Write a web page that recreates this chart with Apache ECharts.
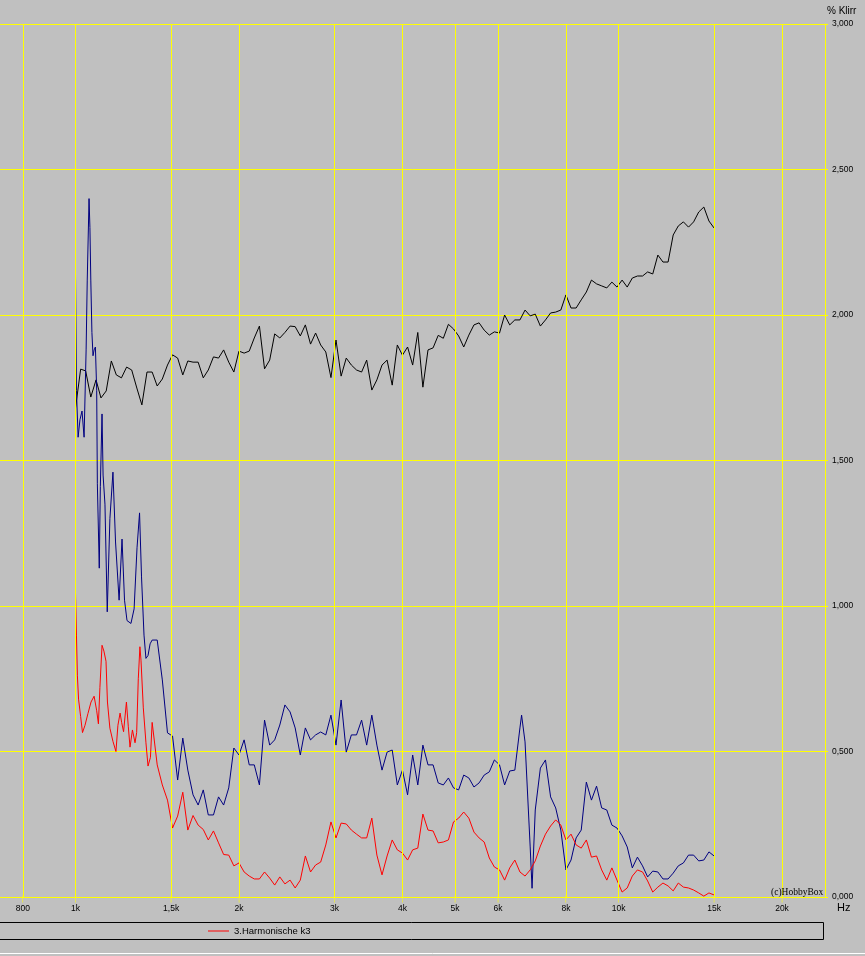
<!DOCTYPE html>
<html>
<head>
<meta charset="utf-8">
<script src="https://cdn.jsdelivr.net/npm/echarts@6/dist/echarts.min.js"></script>
<style>
html,body{margin:0;padding:0;background:#c0c0c0;}
#chart{width:865px;height:956px;}
</style>
</head>
<body>
<div id="chart"></div>
<script>
// common 1/32-octave frequency grid (Hz)
const freqs = [1000,1022,1044,1067,1091,1114,1139,1164,1189,1215,1242,1269,1297,1325,1354,1384,1414,1445,1477,1509,1542,1576,1610,1646,1682,1719,1756,1795,1834,1874,1915,1957,
2000,2044,2089,2134,2181,2229,2278,2327,2378,2430,2484,2538,2594,2650,2709,2768,2828,2890,2954,3018,3084,3152,3221,3292,3364,3437,3513,3589,3668,3748,3830,3914,
4000,4088,4177,4269,4362,4458,4555,4655,4757,4861,4967,5076,5187,5301,5417,5536,5657,5781,5907,6037,6169,6304,6442,6583,6727,6875,7025,7179,7336,7497,7661,7829,
8000,8175,8354,8537,8724,8915,9110,9310,9514,9722,9935,10152,10375,10602,10834,11071,11314,11561,11815,12073,12338,12608,12884,13166,13454,13749,14050,14358,14672,14993];

// black curve (% Klirr)
const blackVals = [1.68,1.814,1.808,1.718,1.777,1.715,1.739,1.842,1.794,1.784,1.821,1.811,1.749,1.691,1.804,1.804,1.756,1.780,1.828,1.863,1.852,1.794,1.842,1.838,1.838,1.784,1.811,1.856,1.852,1.880,1.838,1.804,
1.876,1.869,1.876,1.921,1.962,1.815,1.845,1.935,1.921,1.940,1.962,1.960,1.928,1.966,1.900,1.938,1.897,1.873,1.785,1.914,1.790,1.852,1.828,1.811,1.804,1.845,1.742,1.777,1.828,1.845,1.759,1.897,
1.862,1.890,1.828,1.940,1.752,1.880,1.887,1.930,1.920,1.968,1.952,1.928,1.890,1.931,1.966,1.973,1.948,1.931,1.942,1.938,2.000,1.966,1.983,1.983,2.017,1.997,2.003,1.962,1.983,2.007,2.010,2.017,
2.069,2.024,2.024,2.052,2.079,2.120,2.107,2.100,2.093,2.113,2.096,2.120,2.096,2.127,2.134,2.134,2.148,2.141,2.206,2.182,2.182,2.275,2.306,2.320,2.302,2.320,2.354,2.371,2.323,2.299];

// blue curve
const blueFreqs = [1000,1004,1011,1019,1028,1037,1046,1051,1059,1063,1067,1072,1077,1082,1088,1094,1097,1106,1111,1119,1124,1133,1144,1157,1172,1185,1203,1218,1231,1244,1265,1282,1298,1312,1323,1337,1348,1360,1372,
1384,1414,1445,1477,1509,1542,1576,1610,1646,1682,1719,1756,1795,1834,1874,1915,1957,
2000,2044,2089,2134,2181,2229,2278,2327,2378,2430,2484,2538,2594,2650,2709,2768,2828,2890,2954,3018,3084,3152,3221,3292,3364,3437,3513,3589,3668,3748,3830,3914,
4000,4088,4177,4269,4362,4458,4555,4655,4757,4861,4967,5076,5187,5301,5417,5536,5657,5781,5907,6037,6169,6304,6442,6583,6629,6727,6875,6930,7025,7179,7336,7497,7661,7829,
8000,8175,8354,8537,8724,8915,9110,9310,9514,9722,9935,10152,10375,10602,10834,11071,11314,11561,11815,12073,12338,12608,12884,13166,13454,13749,14050,14358,14672,14993];
const blueVals = [2.14,1.74,1.58,1.64,1.67,1.58,1.88,2.12,2.40,2.30,2.12,1.94,1.86,1.88,1.89,1.74,1.42,1.13,1.41,1.66,1.45,1.35,0.98,1.30,1.46,1.22,1.02,1.23,1.02,0.95,0.94,0.99,1.20,1.32,1.10,0.90,0.82,0.83,0.87,
0.883,0.883,0.746,0.564,0.553,0.402,0.546,0.436,0.351,0.316,0.368,0.282,0.282,0.344,0.316,0.375,0.512,
0.488,0.540,0.454,0.454,0.385,0.608,0.522,0.540,0.591,0.660,0.636,0.581,0.488,0.581,0.540,0.557,0.567,0.557,0.625,0.522,0.677,0.498,0.557,0.557,0.608,0.522,0.625,0.522,0.436,0.498,0.505,0.385,
0.436,0.351,0.488,0.385,0.522,0.454,0.454,0.392,0.385,0.409,0.375,0.368,0.419,0.409,0.378,0.392,0.419,0.430,0.471,0.454,0.385,0.433,0.436,0.581,0.625,0.533,0.172,0.030,0.299,0.443,0.471,0.344,0.306,0.230,
0.093,0.127,0.203,0.230,0.395,0.333,0.381,0.306,0.299,0.247,0.237,0.210,0.172,0.100,0.137,0.107,0.069,0.089,0.086,0.062,0.062,0.082,0.107,0.117,0.144,0.144,0.124,0.127,0.155,0.141];

// red curve: 3. Harmonische k3
const redFreqs = [1000,1004,1008,1013,1022,1030,1041,1054,1068,1082,1094,1102,1109,1119,1128,1138,1145,1157,1172,1187,1197,1208,1216,1226,1241,1251,1260,1273,1287,1296,1305,1314,1320,1333,1348,1360,1374,
1384,1414,1445,1477,1509,1542,1576,1610,1646,1682,1719,1756,1795,1834,1874,1915,1957,
2000,2044,2089,2134,2181,2229,2278,2327,2378,2430,2484,2538,2594,2650,2709,2768,2828,2890,2954,3018,3084,3152,3221,3292,3364,3437,3513,3589,3668,3748,3830,3914,
4000,4088,4177,4269,4362,4458,4555,4655,4757,4861,4967,5076,5187,5301,5417,5536,5657,5781,5907,6037,6169,6304,6442,6583,6727,6875,7025,7179,7336,7497,7661,7829,
8000,8175,8354,8537,8724,8915,9110,9310,9514,9722,9935,10152,10375,10602,10834,11071,11314,11561,11815,12073,12338,12608,12884,13166,13454,13749,14050,14358,14672,14993];
const redVals = [1.045,0.90,0.76,0.68,0.62,0.565,0.59,0.63,0.67,0.69,0.64,0.595,0.72,0.865,0.845,0.81,0.67,0.58,0.535,0.50,0.59,0.632,0.60,0.568,0.67,0.585,0.515,0.574,0.53,0.565,0.75,0.86,0.814,0.65,0.53,0.45,0.48,
0.60,0.454,0.385,0.333,0.237,0.278,0.36,0.23,0.28,0.247,0.232,0.196,0.227,0.186,0.146,0.144,0.107,
0.117,0.086,0.072,0.062,0.062,0.086,0.065,0.041,0.069,0.045,0.058,0.031,0.058,0.141,0.086,0.110,0.120,0.179,0.258,0.203,0.254,0.251,0.230,0.216,0.203,0.203,0.271,0.144,0.076,0.141,0.196,0.162,
0.151,0.127,0.162,0.168,0.285,0.230,0.227,0.186,0.189,0.196,0.258,0.271,0.292,0.271,0.223,0.203,0.189,0.134,0.103,0.093,0.058,0.100,0.127,0.086,0.072,0.093,0.124,0.175,0.216,0.244,0.265,0.247,
0.196,0.216,0.179,0.168,0.196,0.137,0.141,0.093,0.058,0.100,0.058,0.017,0.031,0.072,0.093,0.086,0.055,0.017,0.034,0.048,0.038,0.021,0.048,0.034,0.031,0.024,0.014,0.003,0.014,0.007];

const xTickFreqs = [800,1000,1500,2000,3000,4000,5000,6000,8000,10000,15000,20000];
const xTickLabels = ['800','1k','1,5k','2k','3k','4k','5k','6k','8k','10k','15k','20k'];
const redName = '3.Harmonische k3';

const FONT = '"Liberation Sans", Arial, sans-serif';
const YEL = '#ffff00';

function pairs(xs, ys){ return xs.map((x,i)=>[x, ys[i]]); }

const chart = echarts.init(document.getElementById('chart'), null, {renderer:'canvas'});
chart.setOption({
  backgroundColor:'#c0c0c0',
  animation:false,
  title:[
    {text:'% Klirr', left:827, top:6, padding:0, textStyle:{fontSize:10, fontWeight:'normal', color:'#000', fontFamily:FONT}},
    {text:'Hz', left:837, top:902, padding:0, textStyle:{fontSize:11, fontWeight:'normal', color:'#000', fontFamily:FONT}},
    {text:'(c)HobbyBox', left:771, top:887, padding:0, textStyle:{fontSize:9.5, fontWeight:'normal', color:'#000', fontFamily:'"Liberation Serif", "Times New Roman", serif'}}
  ],
  legend:{
    data:[{name:redName, icon:'rect'}], left:208, top:926, padding:0, itemWidth:21, itemHeight:1,
    selectedMode:false, textStyle:{fontSize:9.5, color:'#000', fontFamily:FONT}
  },
  grid:{left:0, top:24, right:40, bottom:59, containLabel:false, outerBoundsMode:'none'},
  xAxis:{
    type:'log', logBase:10, min:726, max:24000,
    axisLine:{show:true, lineStyle:{color:YEL, width:1}},
    axisTick:{show:false}, axisLabel:{show:false}, splitLine:{show:false}, minorTick:{show:false}
  },
  yAxis:{
    type:'value', position:'right', min:0, max:3, interval:0.5,
    axisLine:{show:true, lineStyle:{color:YEL, width:1}},
    axisTick:{show:true, length:3, lineStyle:{color:YEL}},
    splitLine:{show:true, lineStyle:{color:YEL, width:1}},
    axisLabel:{margin:7, fontSize:8.5, color:'#000', fontFamily:FONT,
      formatter: v => v.toFixed(3).replace('.', ',')}
  },
  series:[
    {
      type:'line', name:'xgrid', data:[], z:1, silent:true,
      markLine:{
        silent:true, symbol:['none','none'], animation:false,
        lineStyle:{color:YEL, width:1, type:'solid'},
        emphasis:{disabled:true},
        label:{show:true, position:'start', distance:0,
          formatter: p => '{tk|\u2502}\n{t|' + p.name + '}',
          rich:{
            tk:{fontSize:6, lineHeight:4, color:YEL, fontFamily:'"DejaVu Sans Mono", "DejaVu Sans", monospace'},
            t:{fontSize:8.5, lineHeight:15, color:'#000', fontFamily:FONT}
          }
        },
        data: xTickFreqs.map((f,i)=>({xAxis:f, name:xTickLabels[i]}))
      }
    },
    {type:'line', name:'Klirr gesamt', data:pairs(freqs, blackVals), symbol:'none', showSymbol:false, z:3,
      lineStyle:{color:'#000000', width:1}, itemStyle:{color:'#000000'}, silent:true},
    {type:'line', name:'2.Harmonische k2', data:pairs(blueFreqs, blueVals), symbol:'none', showSymbol:false, z:3,
      lineStyle:{color:'#000080', width:1}, itemStyle:{color:'#000080'}, silent:true},
    {type:'line', name:redName, data:pairs(redFreqs, redVals), symbol:'none', showSymbol:false, z:4,
      lineStyle:{color:'#ff0000', width:1}, itemStyle:{color:'#ff0000'}, silent:true}
  ],
  graphic:[
    {type:'rect', shape:{x:-1.5, y:922.5, width:825, height:17}, style:{fill:'none', stroke:'#000', lineWidth:1}, silent:true},
    {type:'line', shape:{x1:0, y1:953.5, x2:865, y2:953.5}, style:{stroke:'#ffffff', lineWidth:1}, silent:true}
  ]
});
</script>
</body>
</html>
